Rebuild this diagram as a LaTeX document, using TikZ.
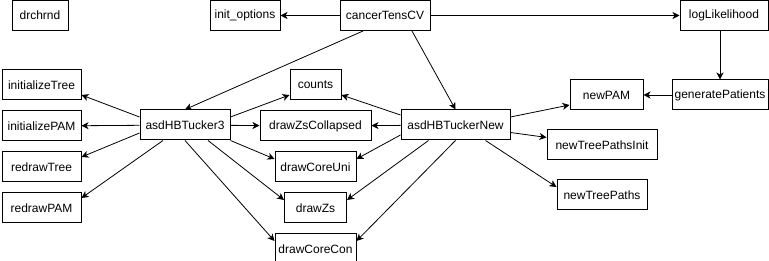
\documentclass[tikz,border=0pt]{standalone}
\usepackage{fontspec}
\setmainfont{Liberation Sans}
\usetikzlibrary{arrows.meta,positioning}

\begin{document}
\begin{tikzpicture}[x=1pt,y=-1pt,
  font=\fontsize{12}{14}\selectfont,
  box/.style={draw,line width=1pt,inner sep=0pt,minimum height=30pt},
  ar/.style={line width=0.8pt,-{Stealth[length=7pt,width=7pt,inset=2pt]}}]
\useasboundingbox (0,0) rectangle (769,261);
% top row
\node[box,minimum width=56pt] (dr) at (40,15.5) {drchrnd};
\node[box,minimum width=70pt] (io) at (245,15.5) {init\_options};
\node[box,minimum width=90pt] (cv) at (385,15.5) {cancerTensCV};
\node[box,minimum width=88pt] (ll) at (724,15.5) {logLikelihood};
\node[box,minimum width=96pt] (gp) at (720,95) {generatePatients};
\node[box,minimum width=73pt] (pam) at (606.5,95) {newPAM};
% left column
\node[box,minimum width=79pt] (it) at (41.5,85) {initializeTree};
\node[box,minimum width=79pt,below=10pt of it] (ip) {initializePAM};
\node[box,minimum width=79pt,below=10pt of ip] (rt) {redrawTree};
\node[box,minimum width=79pt,below=10pt of rt] (rp) {redrawPAM};
% the two samplers
\node[box,minimum width=90pt] (t3) at (185,125) {asdHBTucker3};
\node[box,minimum width=109pt] (tn) at (455.5,125) {asdHBTuckerNew};
% shared helpers
\node[box,minimum width=51pt] (co) at (315.5,85) {counts};
\node[box,minimum width=111pt,below=10pt of co] (zc) {drawZsCollapsed};
\node[box,minimum width=81pt,below=10pt of zc] (cu) {drawCoreUni};
\node[box,minimum width=62pt,below=10pt of cu] (zs) {drawZs};
\node[box,minimum width=81pt,below=10pt of zs] (cc) {drawCoreCon};
% tree paths
\node[box,minimum width=110pt] (tpi) at (602,145) {newTreePathsInit};
\node[box,minimum width=90pt] (tp) at (602,195) {newTreePaths};

\draw[ar] (cv)--(io); \draw[ar] (cv)--(ll);
\draw[ar] ([xshift=-22pt]cv.south)--(t3.north);
\draw[ar] ([xshift=27pt]cv.south)--(tn.north);
\draw[ar] (ll.south -| gp.north)--(gp.north); \draw[ar] (gp)--(pam);

\draw[ar] ([yshift=8pt]t3.west)--([yshift=-10pt]it.east);
\draw[ar] (t3)--(ip);
\draw[ar] ([yshift=-8pt]t3.west)--([yshift=10pt]rt.east);
\draw[ar] ([xshift=-22pt]t3.south)--([yshift=10pt]rp.east);
\draw[ar] ([yshift=8pt]t3.east)--([yshift=-10pt]co.west);
\draw[ar] (t3)--(zc);
\draw[ar] (t3.south east)--([yshift=8pt]cu.west);
\draw[ar] ([xshift=23pt]t3.south)--([yshift=8pt]zs.west);
\draw[ar] (t3.south)--([yshift=8pt]cc.west);

\draw[ar] ([yshift=10pt]tn.west)--([yshift=-10pt]co.east);
\draw[ar] (tn)--(zc);
\draw[ar] ([yshift=-10pt]tn.west)--([yshift=8pt]cu.east);
\draw[ar] ([xshift=-27pt]tn.south)--([yshift=8pt]zs.east);
\draw[ar] (tn.south)--([yshift=8pt]cc.east);
\draw[ar] ([yshift=8pt]tn.east)--([yshift=-10pt]pam.west);
\draw[ar] (tn)--(tpi);
\draw[ar] ([xshift=30pt]tn.south)--([yshift=8pt]tp.west);
\end{tikzpicture}
\end{document}
